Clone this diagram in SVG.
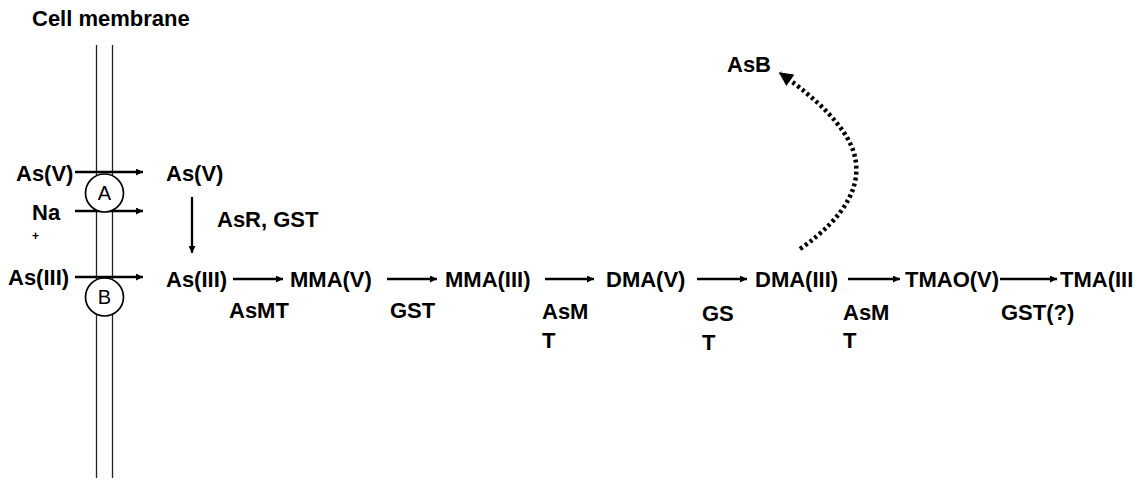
<svg xmlns="http://www.w3.org/2000/svg" width="1141" height="480" viewBox="0 0 1141 480">
<style>
text{font-family:"Liberation Sans",Arial,sans-serif;font-weight:bold;font-size:22px;fill:#000}
.c{font-weight:normal;font-size:20px;text-anchor:middle}
.sm{font-size:12px}
.ln{stroke:#000;stroke-width:2.3;fill:none}
.mem{stroke:#222;stroke-width:1.3;fill:none}
</style>
<defs>
<marker id="ah" viewBox="0 0 10 10" refX="10" refY="5" markerWidth="9" markerHeight="7" markerUnits="userSpaceOnUse" orient="auto"><path d="M0,0 L10,5 L0,10 z" fill="#000"/></marker>
<marker id="ahb" viewBox="0 0 10 10" refX="9" refY="5" markerWidth="15" markerHeight="14" markerUnits="userSpaceOnUse" orient="auto"><path d="M0,0 L10,5 L0,10 z" fill="#000"/></marker>
</defs>
<text x="32" y="26">Cell membrane</text>
<g id="membrane">
<line class="mem" x1="96.5" y1="45" x2="96.5" y2="478"/>
<line class="mem" x1="112.5" y1="45" x2="112.5" y2="478"/>
</g>
<g id="connectors">
<line class="ln" x1="75" y1="172" x2="143" y2="172" marker-end="url(#ah)"/>
<line class="ln" x1="75" y1="211" x2="143" y2="211" marker-end="url(#ah)"/>
<line class="ln" x1="75" y1="277" x2="143" y2="277" marker-end="url(#ah)"/>
<line class="ln" x1="192" y1="197" x2="192" y2="253" marker-end="url(#ah)"/>
<line class="ln" x1="233" y1="279" x2="283" y2="279" marker-end="url(#ah)"/>
<line class="ln" x1="387" y1="279" x2="437" y2="279" marker-end="url(#ah)"/>
<line class="ln" x1="545" y1="279" x2="594" y2="279" marker-end="url(#ah)"/>
<line class="ln" x1="697" y1="279" x2="747" y2="279" marker-end="url(#ah)"/>
<line class="ln" x1="848" y1="279" x2="900" y2="279" marker-end="url(#ah)"/>
<line class="ln" x1="1000" y1="279" x2="1057" y2="279" marker-end="url(#ah)"/>
<path d="M800,249 Q870,200 853,150 Q840,115 780,73" stroke="#000" stroke-width="4.5" stroke-dasharray="3,3" fill="none" marker-end="url(#ahb)"/>
</g>
<g id="transporterA">
<circle cx="104.5" cy="193" r="19" fill="#fff" stroke="#000" stroke-width="1.7"/>
<text class="c" x="104.5" y="200">A</text>
</g>
<g id="transporterB">
<circle cx="104.5" cy="297" r="19" fill="#fff" stroke="#000" stroke-width="1.7"/>
<text class="c" x="104.5" y="304">B</text>
</g>
<g id="asv-out"><text x="16" y="181">As(V)</text></g>
<g id="na-out"><text x="32" y="220">Na</text><text class="sm" x="32" y="240">+</text></g>
<g id="asiii-out"><text x="8" y="285">As(III)</text></g>
<g id="asv-in"><text x="166" y="181">As(V)</text></g>
<g id="asr-gst"><text x="217" y="227">AsR, GST</text></g>
<g id="asiii-in"><text x="166" y="287">As(III)</text></g>
<g id="mma-v"><text x="290" y="287">MMA(V)</text></g>
<g id="mma-iii"><text x="445" y="287">MMA(III)</text></g>
<g id="dma-v"><text x="606" y="287">DMA(V)</text></g>
<g id="dma-iii"><text x="755" y="287">DMA(III)</text></g>
<g id="tmao-v"><text x="905" y="287">TMAO(V)</text></g>
<g id="tma-iii"><text x="1060" y="287">TMA(III</text></g>
<g id="asb"><text x="727" y="72">AsB</text></g>
<g id="enzymes">
<text x="229" y="318">AsMT</text>
<text x="390" y="318">GST</text>
<text x="542" y="319">AsM</text>
<text x="542" y="348">T</text>
<text x="702" y="321">GS</text>
<text x="702" y="350">T</text>
<text x="843" y="320">AsM</text>
<text x="843" y="348">T</text>
<text x="1001" y="320">GST(?)</text>
</g>
</svg>
